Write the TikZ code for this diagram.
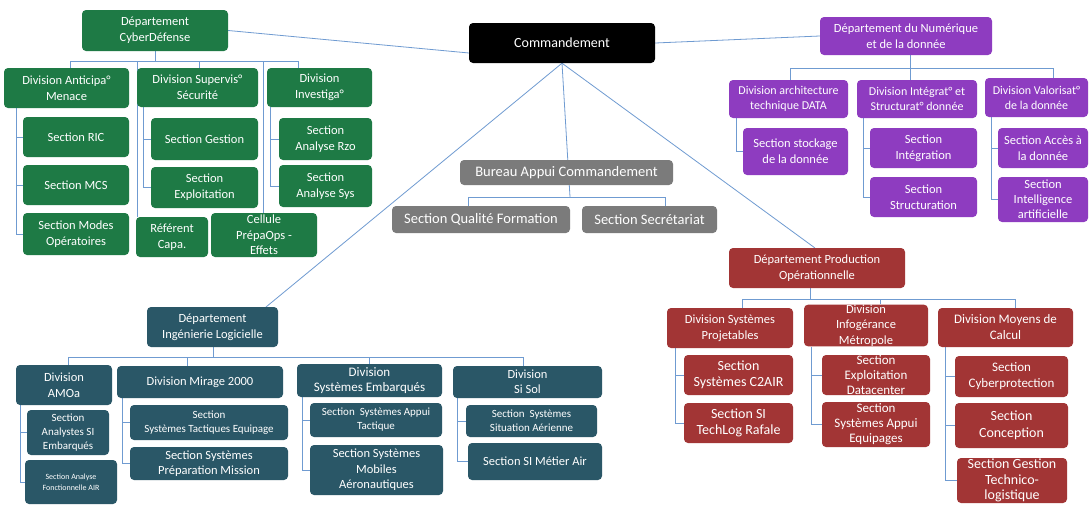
\documentclass[tikz,border=0pt]{standalone}
\usepackage{fontspec}
\setmainfont{Carlito}
\usetikzlibrary{backgrounds}
\definecolor{cgreen}{HTML}{1E7A45}
\definecolor{cteal}{HTML}{2A5767}
\definecolor{cpurple}{HTML}{8E3CC0}
\definecolor{cred}{HTML}{A23535}
\definecolor{cgrey}{HTML}{7B7B7B}
\definecolor{cline}{HTML}{6F9BD1}
\newcommand\fsz[2]{\fontsize{#1}{#2}\selectfont}
\begin{document}
\begin{tikzpicture}[x=1pt,y=-1pt,
  bx/.style={rounded corners=4pt, text=white, align=center, inner sep=0pt, font=\fsz{12.5}{16}},
  wh/.style 2 args={minimum width=#1pt, minimum height=#2pt},
  gb/.style={bx, fill=cgreen},
  tb/.style={bx, fill=cteal},
  pb/.style={bx, fill=cpurple},
  rb/.style={bx, fill=cred},
  yb/.style={bx, fill=cgrey, font=\fsz{14.5}{17}},
  kb/.style={bx, fill=black, font=\fsz{14}{17}},
  fnt/.style 2 args={font=\fsz{#1}{#2}},
  conn/.style={draw=cline, line width=0.8pt}]
\useasboundingbox (0,0) rectangle (1092,506);

% ---------- Commandement ----------
\node[kb, wh={186}{40}] (cmd) at (562,43) {Commandement};

% ---------- Green: CyberDefense ----------
\node[gb, wh={146}{41}] (cyber) at (155,30.5) {Département\\CyberDéfense};
\node[gb, wh={125}{40}] (anti) at (66.5,88) {Division Anticipa°\\Menace};
\node[gb, wh={121}{39}] (superv) at (197.5,87.5) {Division Supervis°\\Sécurité};
\node[gb, wh={105}{39}] (invest) at (319.5,87.5) {Division\\Investiga°};
\node[gb, wh={106}{40}] (ric) at (76,137) {Section RIC};
\node[gb, wh={106}{40}] (mcs) at (76,185) {Section MCS};
\node[gb, wh={106}{42}] (modes) at (76,234) {Section Modes\\Opératoires};
\node[gb, wh={107}{42}] (gestion) at (204.5,139) {Section Gestion};
\node[gb, wh={107}{41}] (exploit) at (204.5,187.5) {Section\\Exploitation};
\node[gb, wh={93}{42}] (rzo) at (325.5,139) {Section\\Analyse Rzo};
\node[gb, wh={93}{42}] (asys) at (325.5,186) {Section\\Analyse Sys};
\node[gb, wh={72}{40}] (referent) at (172,237) {Référent\\Capa.};
\node[gb, wh={106}{44}, fnt={12.5}{15.5}] (cellule) at (264,235) {Cellule\\PrépaOps -\\Effets};

% ---------- Grey ----------
\node[yb, wh={213}{25}] (bureau) at (566.5,172.5) {Bureau Appui Commandement};
\node[yb, wh={178}{27}] (qualite) at (481,219.5) {Section Qualité Formation};
\node[yb, wh={135}{27}] (secret) at (649.5,219.5) {Section Secrétariat};

% ---------- Purple ----------
\node[pb, wh={172}{38}, fnt={12.5}{15.5}] (numd) at (906,36) {Département du Numérique\\et de la donnée};
\node[pb, wh={119}{38}, fnt={12}{15}] (darch) at (788.5,99) {Division architecture\\technique DATA};
\node[pb, wh={120}{38}, fnt={12}{15}] (dinteg) at (917,99) {Division Intégrat° et\\Structurat° donnée};
\node[pb, wh={103}{39}, fnt={12}{15}] (dvalor) at (1036.5,97.5) {Division Valorisat°\\de la donnée};
\node[pb, wh={105}{47}] (stock) at (795.5,151.5) {Section stockage\\de la donnée};
\node[pb, wh={107}{40}] (integ) at (923.5,148) {Section\\Intégration};
\node[pb, wh={107}{40}] (struct) at (923.5,197) {Section\\Structuration};
\node[pb, wh={90}{40}] (acces) at (1043,148) {Section Accès à\\la donnée};
\node[pb, wh={90}{45}, fnt={12.5}{15}] (ia) at (1043,199.5) {Section\\Intelligence\\artificielle};

% ---------- Teal: Ingenierie Logicielle ----------
\node[tb, wh={131}{40}] (ingl) at (212.5,327) {Département\\Ingénierie Logicielle};
\node[tb, wh={96}{40}] (amoa) at (64,385) {Division\\AMOa};
\node[tb, wh={166}{32}] (mirage) at (200,382) {Division Mirage 2000};
\node[tb, wh={145}{33}, fnt={13}{15.5}] (embarq) at (369.5,380.5) {Division\\Systèmes Embarqués};
\node[tb, wh={149}{32}, fnt={12.5}{15}] (sisol) at (527.5,382) {Division\\Si Sol};
\node[tb, wh={82}{45}, fnt={11}{14}] (analystes) at (68,432.5) {Section\\Analystes SI\\Embarqués};
\node[tb, wh={92}{44}, fnt={8}{11}] (afonc) at (71,482) {Section Analyse\\Fonctionnelle AIR};
\node[tb, wh={158}{35}, fnt={11}{14}] (tactiq) at (209,422.5) {Section\\Systèmes Tactiques Equipage};
\node[tb, wh={158}{33}, fnt={12.5}{15}] (prep) at (209,463.5) {Section Systèmes\\Préparation Mission};
\node[tb, wh={132}{34}, fnt={11}{14}] (appui) at (376,420) {Section\ \ Systèmes Appui\\Tactique};
\node[tb, wh={133}{50}, fnt={12.5}{15.5}] (mobiles) at (376.5,470) {Section Systèmes\\Mobiles\\Aéronautiques};
\node[tb, wh={131}{32}, fnt={11}{14}] (situation) at (531.5,421) {Section\ \ Systèmes\\Situation Aérienne};
\node[tb, wh={134}{37}] (metier) at (535,461.5) {Section SI Métier Air};

% ---------- Red: Production Operationnelle ----------
\node[rb, wh={176}{40}] (prod) at (817,268) {Département Production\\Opérationnelle};
\node[rb, wh={126}{40}, fnt={12.5}{16}] (projet) at (730,328) {Division Systèmes\\Projetables};
\node[rb, wh={124}{39}, fnt={12.5}{15.5}] (infog) at (866,325.5) {Division\\Infogérance\\Métropole};
\node[rb, wh={135}{39}, fnt={13}{16}] (moyens) at (1005.5,327.5) {Division Moyens de\\Calcul};
\node[rb, wh={109}{40}, fnt={14}{16.5}] (c2air) at (738.5,375) {Section\\Systèmes C2AIR};
\node[rb, wh={109}{40}, fnt={14}{16.5}] (techlog) at (738.5,423) {Section SI\\TechLog Rafale};
\node[rb, wh={108}{40}, fnt={13}{15}] (datac) at (876,375) {Section\\Exploitation\\Datacenter};
\node[rb, wh={108}{45}, fnt={13}{15}] (equip) at (876,424.5) {Section\\Systèmes Appui\\Equipages};
\node[rb, wh={113}{41}, fnt={13}{16}] (cyberp) at (1011.5,376.5) {Section\\Cyberprotection};
\node[rb, wh={113}{45}, fnt={14}{16.5}] (concep) at (1011.5,425.5) {Section\\Conception};
\node[rb, wh={110}{45}, fnt={14}{15.5}] (gtech) at (1012,480.5) {Section Gestion\\Technico-\\logistique};

% ---------- bus / tree coordinates ----------
\coordinate (gbL) at (70,61);
\coordinate (gbR) at (298,61);
\coordinate (gdRef) at (137,61);
\coordinate (gdSup) at (199,61);
\coordinate (gdCel) at (263,61);
\coordinate (tAnti) at (16,0);
\coordinate (tSup) at (143,0);
\coordinate (tInv) at (270,0);
\coordinate (cmdL) at (469,53);
\coordinate (yBus) at (570,197);
\coordinate (ybL) at (468,197);
\coordinate (ybR) at (665,197);
\coordinate (pbL) at (790,68);
\coordinate (pbM) at (910,68);
\coordinate (pbR) at (1053,68);
\coordinate (tArch) at (736,0);
\coordinate (tInteg) at (863,0);
\coordinate (tValor) at (991,0);
\coordinate (inglIn) at (266,307);
\coordinate (tbL) at (68,357);
\coordinate (tbR) at (523,357);
\coordinate (tbM) at (213,357);
\coordinate (tdMir) at (187,357);
\coordinate (tdEmb) at (369,357);
\coordinate (tAmoa) at (20,0);
\coordinate (tMir) at (122,0);
\coordinate (tEmb) at (302,0);
\coordinate (tSol) at (457,0);
\coordinate (prodIn) at (815,248);
\coordinate (rbL) at (742,299);
\coordinate (rbR) at (1015,299);
\coordinate (rbM) at (810,299);
\coordinate (rdInf) at (880,299);
\coordinate (tProj) at (675,0);
\coordinate (tInf) at (811,0);
\coordinate (tMoy) at (945,0);

\begin{scope}[on background layer]
\fill[white] (0,0) rectangle (1092,506);
% main links
\draw[conn] (cyber.east) -- (cmdL);
\draw[conn] (cmd.east) -- (numd.west);
\draw[conn] (cmd.south) -- (inglIn);
\draw[conn] (cmd.south) -- (yBus);
\draw[conn] (cmd.south) -- (prodIn);
% green tree
\draw[conn] (cyber.south) -- (cyber.south |- gbL);
\draw[conn] (gbL) -- (gbR);
\draw[conn] (gbL) -- (anti.north -| gbL);
\draw[conn] (gdRef) -- (referent.north -| gdRef);
\draw[conn] (gdSup) -- (superv.north -| gdSup);
\draw[conn] (gdCel) -- (cellule.north -| gdCel);
\draw[conn] (gbR) -- (invest.north -| gbR);
\draw[conn] (tAnti |- anti.south) |- (modes.west);
\draw[conn] (tAnti |- ric.west) -- (ric.west);
\draw[conn] (tAnti |- mcs.west) -- (mcs.west);
\draw[conn] (tSup |- superv.south) |- (exploit.west);
\draw[conn] (tSup |- gestion.west) -- (gestion.west);
\draw[conn] (tInv |- invest.south) |- (asys.west);
\draw[conn] (tInv |- rzo.west) -- (rzo.west);
% grey
\draw[conn] (ybL) -- (ybR);
\draw[conn] (ybL) -- (qualite.north -| ybL);
\draw[conn] (ybR) -- (secret.north -| ybR);
% purple
\draw[conn] (numd.south -| pbM) -- (dinteg.north -| pbM);
\draw[conn] (pbL) -- (pbR);
\draw[conn] (pbL) -- (darch.north -| pbL);
\draw[conn] (pbR) -- (dvalor.north -| pbR);
\draw[conn] (tArch |- darch.south) |- (stock.west);
\draw[conn] (tInteg |- dinteg.south) |- (struct.west);
\draw[conn] (tInteg |- integ.west) -- (integ.west);
\draw[conn] (tValor |- dvalor.south) |- (ia.west);
\draw[conn] (tValor |- acces.west) -- (acces.west);
% teal
\draw[conn] (ingl.south -| tbM) -- (tbM);
\draw[conn] (tbL) -- (tbR);
\draw[conn] (tbL) -- (amoa.north -| tbL);
\draw[conn] (tdMir) -- (mirage.north -| tdMir);
\draw[conn] (tdEmb) -- (embarq.north -| tdEmb);
\draw[conn] (tbR) -- (sisol.north -| tbR);
\draw[conn] (tAmoa |- amoa.south) |- (afonc.west);
\draw[conn] (tAmoa |- analystes.west) -- (analystes.west);
\draw[conn] (tMir |- mirage.south) |- (prep.west);
\draw[conn] (tMir |- tactiq.west) -- (tactiq.west);
\draw[conn] (tEmb |- embarq.south) |- (mobiles.west);
\draw[conn] (tEmb |- appui.west) -- (appui.west);
\draw[conn] (tSol |- sisol.south) |- (metier.west);
\draw[conn] (tSol |- situation.west) -- (situation.west);
% red
\draw[conn] (prod.south -| rbM) -- (rbM);
\draw[conn] (rbL) -- (rbR);
\draw[conn] (rbL) -- (projet.north -| rbL);
\draw[conn] (rdInf) -- (infog.north -| rdInf);
\draw[conn] (rbR) -- (moyens.north -| rbR);
\draw[conn] (tProj |- projet.south) |- (techlog.west);
\draw[conn] (tProj |- c2air.west) -- (c2air.west);
\draw[conn] (tInf |- infog.south) |- (equip.west);
\draw[conn] (tInf |- datac.west) -- (datac.west);
\draw[conn] (tMoy |- moyens.south) |- (gtech.west);
\draw[conn] (tMoy |- cyberp.west) -- (cyberp.west);
\draw[conn] (tMoy |- concep.west) -- (concep.west);
\end{scope}
\end{tikzpicture}
\end{document}
